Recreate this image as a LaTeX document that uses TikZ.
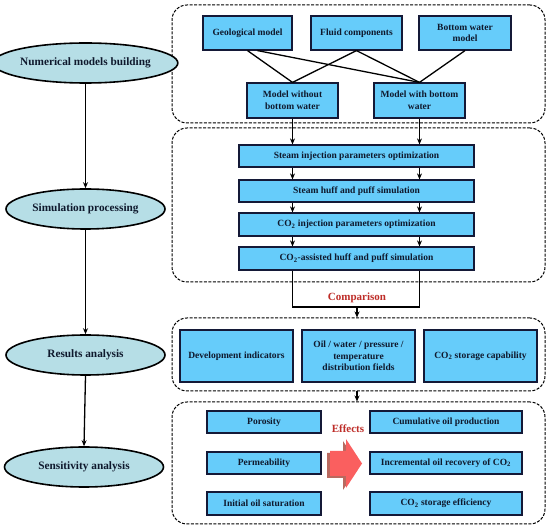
\documentclass[tikz,border=0pt]{standalone}
\usepackage{fontspec}
\setmainfont{Liberation Serif}
\usetikzlibrary{arrows.meta,shapes.geometric}
\definecolor{boxfill}{RGB}{102,204,250}
\definecolor{boxline}{RGB}{20,25,55}
\definecolor{ellfill}{RGB}{182,222,230}
\definecolor{txt}{RGB}{15,25,45}
\definecolor{redtxt}{RGB}{190,45,40}
\definecolor{arrowred}{RGB}{250,95,95}
\definecolor{arrowshade}{RGB}{185,105,95}
\tikzset{
  stage/.style={ellipse, draw=black, line width=1.6pt, fill=ellfill, minimum width=159pt, minimum height=40pt, inner sep=0pt, font=\fontsize{11.3}{13}\selectfont\bfseries, text=txt},
  blue/.style={draw=boxline, line width=1.2pt, fill=boxfill, inner sep=0pt, align=center, font=\fontsize{9.5}{11.5}\selectfont\bfseries, text=txt},
  frame/.style={draw=black, line width=1pt, dash pattern=on 3pt off 1.5pt, rounded corners=15pt, inner sep=0pt},
  conn/.style={line width=1.3pt, draw=black},
  arr/.style={line width=1.3pt, draw=black, -{Stealth[length=6pt,width=5pt]}},
  redlabel/.style={font=\fontsize{11}{12}\selectfont\bfseries, text=redtxt, fill=white, inner sep=1pt}
}
\begin{document}
\begin{tikzpicture}[x=1pt,y=-1pt]
\useasboundingbox (0,0) rectangle (550,529);
% frames
\node[frame, minimum width=373pt, minimum height=118pt] (f1) at (358.5,64) {};
\node[frame, minimum width=373pt, minimum height=154pt] (f2) at (358.5,205) {};
\node[frame, minimum width=373pt, minimum height=73pt] (f3) at (358.5,354.5) {};
\node[frame, minimum width=373pt, minimum height=122pt] (f4) at (358.5,463) {};
% left stages
\node[stage] (e1) at (85.5,63) {Numerical models building};
\node[stage] (e2) at (85.5,209) {Simulation processing};
\node[stage] (e3) at (85.5,355) {Results analysis};
\node[stage] (e4) at (84,467) {Sensitivity analysis};
\draw[arr] (e1.south) -- (e2.north);
\draw[arr] (e2.south) -- (e3.north);
\draw[arr] (e3.south) -- (e4.north);
% models
\node[blue, minimum width=89pt, minimum height=34pt] (geo) at (247.5,33) {Geological model};
\node[blue, minimum width=91pt, minimum height=34pt] (fluid) at (356.5,33) {Fluid components};
\node[blue, minimum width=92pt, minimum height=34pt] (bwm) at (465,33) {Bottom water\\model};
\node[blue, minimum width=91pt, minimum height=35pt] (mwo) at (292.5,100.5) {Model without\\bottom water};
\node[blue, minimum width=91pt, minimum height=35pt] (mw) at (419.5,100.5) {Model with bottom\\water};
\draw[conn] (geo.south) -- (mwo.north);
\draw[conn] ([xshift=10pt]geo.south) -- (mw.north);
\draw[conn] (fluid.south) -- (mwo.north);
\draw[conn] (fluid.south) -- (mw.north);
\draw[conn] (bwm.south) -- (mw.north);
% simulation steps
\node[blue, minimum width=235pt, minimum height=22pt] (s1) at (356.5,156) {Steam injection parameters optimization};
\node[blue, minimum width=235pt, minimum height=22pt] (s2) at (356.5,191) {Steam huff and puff simulation};
\node[blue, minimum width=235pt, minimum height=23pt] (s3) at (356.5,224.5) {CO\textsubscript{2} injection parameters optimization};
\node[blue, minimum width=235pt, minimum height=23pt] (s4) at (356.5,258.5) {CO\textsubscript{2}-assisted huff and puff simulation};
\draw[arr] (mwo.south) -- (mwo.south |- s1.north);
\draw[arr] (mw.south) -- (mw.south |- s1.north);
\foreach \a/\b in {s1/s2,s2/s3,s3/s4} {
  \draw[arr] (mwo.south |- \a.south) -- (mwo.south |- \b.north);
  \draw[arr] (mw.south |- \a.south) -- (mw.south |- \b.north);
}
\coordinate (cl) at (292.5,307);
\coordinate (cr) at (419.5,307);
\coordinate (cm) at (357,307);
\draw[conn] (mwo.south |- s4.south) -- (cl) -- (cr) -- (mw.south |- s4.south);
\draw[arr] (cm) -- (cm |- f3.north);
\node[redlabel] (cmp) at (357,297.5) {Comparison};
% results
\node[blue, minimum width=113pt, minimum height=52pt] (dev) at (236.5,356) {Development indicators};
\node[blue, minimum width=113pt, minimum height=52pt] (oil) at (358.5,356) {Oil / water / pressure /\\temperature\\distribution fields};
\node[blue, minimum width=113pt, minimum height=52pt] (cap) at (480.5,356) {CO\textsubscript{2} storage capability};
\draw[arr] (cm |- f3.south) -- (cm |- f4.north);
% sensitivity
\node[blue, minimum width=114pt, minimum height=22pt] (por) at (264,422) {Porosity};
\node[blue, minimum width=114pt, minimum height=22pt] (perm) at (264,463) {Permeability};
\node[blue, minimum width=114pt, minimum height=23pt] (ios) at (264,503.5) {Initial oil saturation};
\node[blue, minimum width=152pt, minimum height=22pt] (cum) at (446,422) {Cumulative oil production};
\node[blue, minimum width=152pt, minimum height=22pt] (inc) at (446,463) {Incremental oil recovery of CO\textsubscript{2}};
\node[blue, minimum width=152pt, minimum height=23pt] (eff) at (446,503.5) {CO\textsubscript{2} storage efficiency};
\node[redlabel] (efl) at (348,429) {Effects};
\fill[arrowshade] (327,453) -- (343,453) -- (343,441) -- (359,465.5) -- (343,490) -- (343,478) -- (327,478) -- cycle;
\fill[arrowred] (330,451) -- (346,451) -- (346,439) -- (362,463.5) -- (346,488) -- (346,476) -- (330,476) -- cycle;
\end{tikzpicture}
\end{document}
